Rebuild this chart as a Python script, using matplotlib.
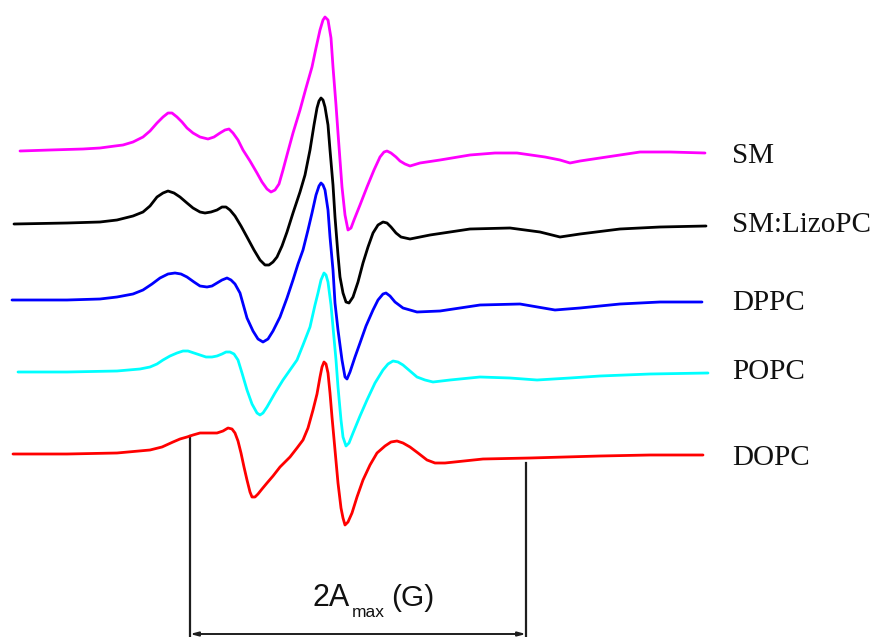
import matplotlib
matplotlib.use("Agg")
import matplotlib.pyplot as plt

# EPR spectra of the spin probe in different lipid membranes.
# Each trace is a list of (field, signal) points; field in arbitrary sweep units,
# signal already stacked with a vertical offset per sample (y grows downward).

sm_trace = [(20, 151), (50, 150), (83, 149), (100, 148), (115, 146), (123, 145), (133, 142),
            (143, 137), (150, 131), (157, 123), (163, 117), (168, 113), (172, 113), (177, 117),
            (182, 122), (187, 128), (193, 133), (200, 137), (208, 139), (214, 137), (220, 133),
            (225, 130), (229, 129), (233, 133), (238, 140), (243, 150), (250, 161), (257, 173),
            (262, 182), (267, 189), (271, 192), (275, 190), (279, 184), (283, 170), (287, 155),
            (293, 133), (300, 110), (306, 88), (312, 67), (316, 48), (320, 30), (323, 20),
            (325, 17), (328, 20), (331, 38), (333, 67), (336, 105), (338, 133), (340, 160),
            (342, 187), (345, 215), (348, 230), (351, 228), (354, 220), (360, 205), (367, 187),
            (374, 170), (380, 157), (384, 152), (387, 151), (391, 153), (396, 157), (400, 161),
            (405, 164), (410, 166), (420, 163), (440, 160), (470, 155), (495, 153), (517, 153),
            (545, 157), (560, 160), (570, 163), (580, 161), (600, 158), (620, 155), (640, 152),
            (670, 152), (705, 153)]

lizo_trace = [(14, 224), (67, 223), (100, 222), (117, 220), (133, 216), (143, 212), (150, 206),
              (157, 197), (163, 193), (168, 191), (174, 193), (180, 197), (187, 203), (193, 208),
              (200, 212), (205, 213), (211, 212), (217, 210), (222, 207), (226, 207), (230, 210),
              (235, 216), (241, 226), (247, 237), (254, 250), (260, 260), (265, 265), (269, 265),
              (273, 262), (277, 257), (282, 246), (287, 232), (293, 213), (300, 192), (305, 175),
              (310, 150), (314, 125), (317, 108), (319, 101), (321, 98), (323, 100), (325, 107),
              (328, 125), (330, 150), (333, 185), (335, 217), (338, 255), (340, 277), (343, 293),
              (346, 302), (349, 303), (353, 297), (358, 282), (363, 263), (368, 247), (373, 233),
              (378, 225), (383, 222), (387, 223), (391, 227), (396, 233), (401, 237), (410, 239),
              (430, 235), (470, 229), (510, 228), (540, 232), (560, 237), (580, 234), (620, 229),
              (660, 227), (706, 226)]

dppc_trace = [(12, 300), (67, 300), (100, 299), (117, 297), (133, 294), (143, 290), (152, 284),
              (160, 278), (168, 274), (175, 273), (181, 274), (187, 277), (194, 282), (200, 286),
              (207, 287), (212, 286), (217, 283), (222, 280), (227, 278), (231, 280), (235, 284),
              (240, 293), (247, 318), (253, 331), (258, 339), (263, 342), (268, 339), (273, 331),
              (280, 317), (287, 298), (293, 280), (298, 264), (303, 250), (308, 230), (312, 213),
              (316, 195), (319, 186), (321, 183), (323, 185), (325, 190), (328, 210), (330, 237),
              (333, 270), (335, 303), (338, 330), (342, 360), (345, 377), (347, 379), (350, 372),
              (355, 357), (360, 343), (366, 326), (373, 310), (378, 300), (383, 294), (386, 293),
              (390, 296), (395, 302), (403, 308), (417, 312), (440, 311), (480, 305), (520, 304),
              (555, 310), (580, 308), (620, 304), (660, 302), (702, 302)]

popc_trace = [(18, 372), (67, 372), (117, 371), (140, 369), (150, 367), (157, 364), (163, 360),
              (170, 356), (177, 353), (183, 351), (188, 351), (194, 353), (200, 355), (206, 357),
              (212, 357), (217, 356), (222, 354), (226, 352), (230, 352), (234, 354), (238, 360),
              (242, 373), (247, 390), (252, 404), (257, 413), (260, 415), (263, 413), (267, 407),
              (275, 393), (283, 380), (290, 370), (297, 360), (303, 345), (310, 327), (315, 305),
              (318, 293), (321, 280), (324, 273), (326, 275), (328, 282), (331, 305), (333, 327),
              (336, 360), (338, 387), (341, 420), (343, 437), (346, 446), (349, 443), (353, 433),
              (360, 416), (367, 400), (375, 383), (383, 370), (388, 364), (393, 361), (398, 362),
              (403, 365), (410, 371), (417, 377), (425, 380), (433, 382), (450, 380), (480, 377),
              (510, 378), (537, 380), (570, 378), (600, 376), (650, 374), (708, 373)]

dopc_trace = [(13, 454), (67, 454), (117, 453), (150, 450), (162, 447), (173, 442), (180, 439),
              (187, 437), (193, 435), (200, 433), (210, 433), (217, 433), (223, 431), (228, 428),
              (232, 429), (235, 433), (238, 441), (241, 453), (244, 467), (247, 480), (250, 492),
              (252, 497), (255, 497), (258, 494), (262, 489), (267, 483), (273, 476), (280, 467),
              (290, 457), (297, 448), (303, 440), (308, 428), (313, 410), (317, 394), (320, 377),
              (322, 367), (324, 362), (326, 364), (328, 373), (330, 393), (332, 417), (335, 450),
              (338, 483), (341, 508), (343, 518), (345, 525), (348, 522), (352, 513), (357, 497),
              (363, 480), (370, 465), (377, 453), (385, 446), (391, 442), (397, 441), (403, 443),
              (410, 447), (418, 453), (427, 460), (435, 463), (445, 463), (483, 459), (530, 458),
              (600, 456), (650, 455), (703, 455)]

samples = ["SM", "SM:LizoPC", "DPPC", "POPC", "DOPC"]
colors = ["#ff00ff", "#000000", "#0000ff", "#00ffff", "#ff0000"]
label_baselines = [163, 232, 310, 379, 465]

# 2A_max: outer hyperfine splitting marked on the DOPC trace
amax_low, amax_high = 190, 526
amax_low_top, amax_high_top = 436, 463
bracket_level = 634

fig = plt.figure(figsize=(8.74, 6.37), dpi=100)
ax = fig.add_axes([0, 0, 1, 1])
ax.set_xlim(0, 874)
ax.set_ylim(637, 0)
ax.axis("off")

traces = [sm_trace, lizo_trace, dppc_trace, popc_trace, dopc_trace]

# splitting bracket, drawn beneath the traces
bracket_color = "#1e1e1e"
ax.plot([amax_low, amax_low], [amax_low_top, bracket_level + 2], color=bracket_color, lw=1.6)
ax.plot([amax_high, amax_high], [amax_high_top, bracket_level + 2], color=bracket_color, lw=1.6)
ax.annotate("", xy=(amax_high, bracket_level), xytext=(amax_low, bracket_level),
            arrowprops=dict(arrowstyle="<|-|>,head_length=0.45,head_width=0.12",
                            color=bracket_color, lw=1.4, shrinkA=0, shrinkB=0))

for trace, c in zip(traces, colors):
    fx, sy = zip(*trace)
    ax.plot(fx, sy, color=c, lw=2.0, solid_joinstyle="round", solid_capstyle="round")

for name, yb in zip(samples, label_baselines):
    ax.text(732, yb, name, family="Liberation Serif", fontsize=21, va="baseline",
            ha="left", color="#111111")

# axis caption: 2A with a "max" subscript, then the unit
cap_kw = dict(family="Liberation Sans", va="baseline", ha="left", color="#111111")
ax.text(313, 606, "2A", fontsize=22, **cap_kw)
ax.text(352, 617, "max", fontsize=12.5, **cap_kw)
ax.text(391, 606, "(G)", fontsize=21.5, **cap_kw)

fig.savefig("out.png", dpi=100)
